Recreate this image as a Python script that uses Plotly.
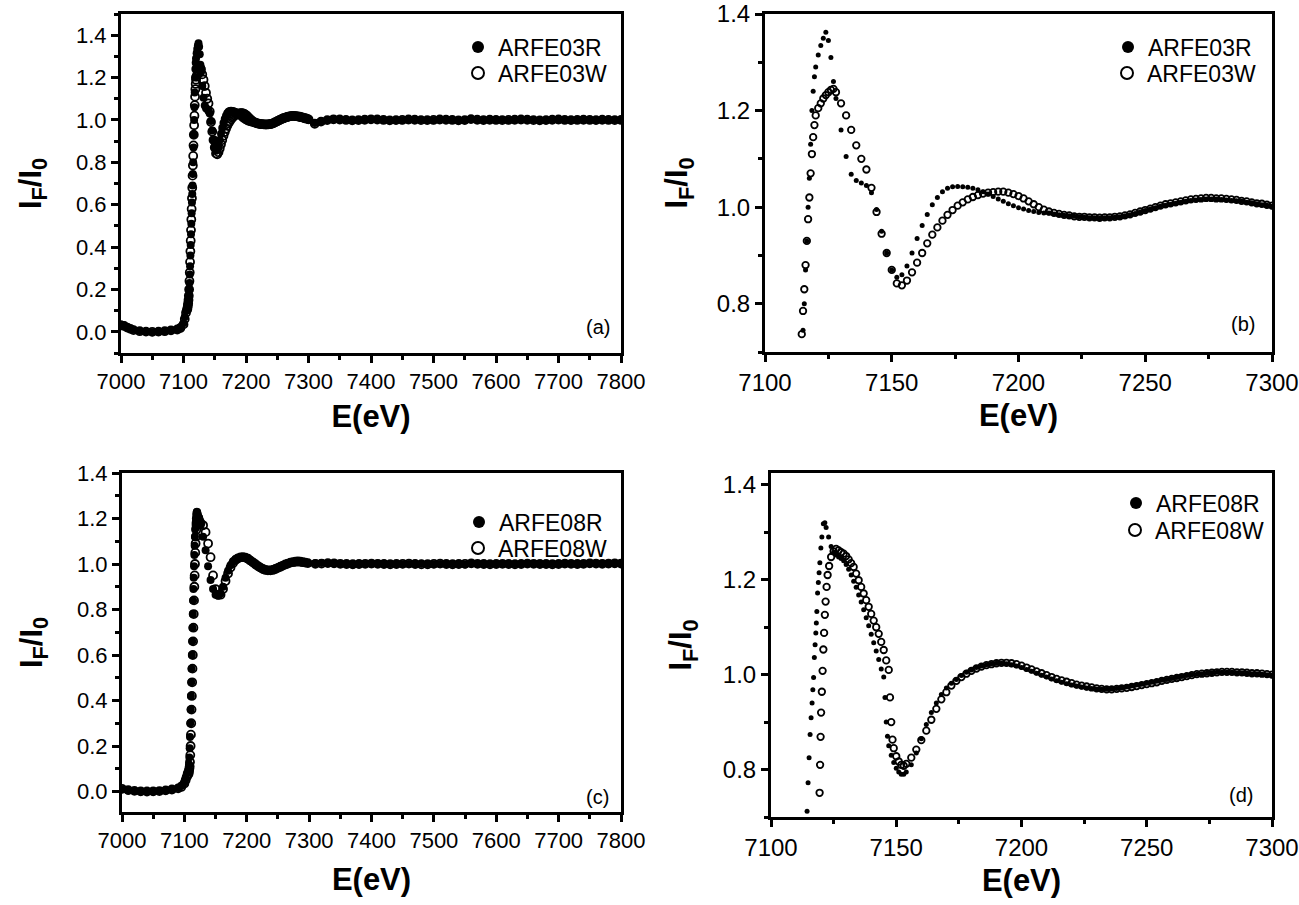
import plotly.graph_objects as go

# ---------------- data: sample ARFE03 (panels a and b share these) ----------------
E03_PRE = [7000, 7005, 7010, 7015, 7020, 7030, 7040, 7050, 7060, 7070, 7080, 7090, 7095, 7100, 7102, 7104]
E03_EDGE = [7106, 7106.5, 7107, 7107.5, 7108, 7108.5, 7109, 7109.5, 7110, 7110.5, 7111, 7111.5,
            7112, 7112.5, 7113, 7113.5, 7114, 7114.5, 7115, 7115.5, 7116, 7116.5, 7117, 7117.5,
            7118, 7118.5, 7119, 7119.5, 7120, 7121, 7122, 7123, 7124, 7125, 7126, 7127, 7128]
E_MID = [7130, 7132, 7134, 7136, 7138, 7140, 7142, 7144, 7146, 7148, 7150, 7152, 7154, 7156, 7158,
         7160, 7162, 7164, 7166, 7168, 7170, 7172, 7174, 7176, 7178, 7180, 7182, 7184, 7186, 7188,
         7190, 7192, 7194, 7196, 7198, 7200, 7202, 7204, 7206, 7208, 7210, 7212, 7214, 7216, 7218,
         7220, 7222, 7224, 7226, 7228, 7230, 7232, 7234, 7236, 7238, 7240, 7242, 7244, 7246, 7248,
         7250, 7252, 7254, 7256, 7258, 7260, 7262, 7264, 7266, 7268, 7270, 7272, 7274, 7276, 7278,
         7280, 7282, 7284, 7286, 7288, 7290, 7292, 7294, 7296, 7298, 7300]
E_TAIL = [7310, 7320, 7330, 7340, 7350, 7360, 7370, 7380, 7390, 7400, 7410, 7420, 7430, 7440, 7450,
          7460, 7470, 7480, 7490, 7500, 7510, 7520, 7530, 7540, 7550, 7560, 7570, 7580, 7590, 7600,
          7610, 7620, 7630, 7640, 7650, 7660, 7670, 7680, 7690, 7700, 7710, 7720, 7730, 7740, 7750,
          7760, 7770, 7780, 7790, 7800]
E03 = E03_PRE + E03_EDGE + E_MID + E_TAIL

R03 = ([0.035, 0.03, 0.022, 0.015, 0.01, 0.004, 0.0, -0.002, 0.0, 0.003, 0.006, 0.012, 0.02, 0.04, 0.07, 0.1]
       + [0.11, 0.12, 0.13, 0.14, 0.15, 0.17, 0.2, 0.23, 0.27, 0.31, 0.36, 0.41, 0.46, 0.51, 0.56, 0.61,
          0.65, 0.69, 0.745, 0.80, 0.87, 0.93, 1.0, 1.06, 1.13, 1.2, 1.24, 1.27, 1.29,
          1.315, 1.335, 1.35, 1.362, 1.345, 1.31, 1.26, 1.225]
       + [1.16, 1.105, 1.068, 1.055, 1.05, 1.045, 1.03, 0.995, 0.95, 0.905, 0.87, 0.855, 0.86, 0.878,
          0.905, 0.935, 0.962, 0.985, 1.005, 1.02, 1.032, 1.039, 1.042, 1.043, 1.042, 1.041, 1.039,
          1.036, 1.032, 1.027, 1.022, 1.017, 1.012, 1.007, 1.003, 0.999, 0.996, 0.993, 0.991, 0.989,
          0.988,
          0.988, 0.986, 0.984, 0.983, 0.982, 0.981, 0.98, 0.979, 0.978, 0.978, 0.977, 0.978, 0.978,
          0.979, 0.98, 0.982, 0.984, 0.987, 0.99, 0.993, 0.996, 0.999, 1.002, 1.004, 1.006, 1.008,
          1.01, 1.012, 1.014, 1.015, 1.016, 1.017, 1.017, 1.017, 1.016, 1.015, 1.014, 1.013, 1.012,
          1.01, 1.009, 1.007, 1.005, 1.004, 1.002]
       + [0.985, 0.993, 0.998, 1.002, 1.003, 1.001, 0.999, 0.998, 1.0, 1.002, 1.003, 1.001, 0.999,
          0.998, 0.999, 1.001, 1.002, 1.0, 0.998, 0.999, 1.001, 1.002, 1.001, 0.999, 0.998, 1.003,
          1.0, 0.999, 1.0, 1.001, 1.0, 0.999, 1.0, 1.001, 1.002, 1.0, 0.999, 0.998, 1.0, 1.001, 1.0,
          0.999, 1.0, 1.001, 1.0, 0.999, 1.0, 1.001, 1.0, 1.0])

W03 = ([0.03, 0.028, 0.02, 0.014, 0.008, 0.003, 0.001, 0.0, 0.001, 0.003, 0.007, 0.011, 0.018, 0.035, 0.06, 0.09]
       + [0.105, 0.115, 0.125, 0.135, 0.15, 0.17, 0.2, 0.24, 0.28, 0.33, 0.38, 0.43, 0.48, 0.53, 0.58,
          0.63, 0.68, 0.737, 0.785, 0.83, 0.88, 0.93, 0.975, 1.02, 1.07, 1.11, 1.145, 1.17, 1.19,
          1.205, 1.215, 1.225, 1.232, 1.238, 1.243, 1.245, 1.238]
       + [1.215, 1.19, 1.16, 1.128, 1.10, 1.078, 1.04, 0.99, 0.945, 0.905, 0.87, 0.842, 0.838, 0.848,
          0.865, 0.885, 0.905, 0.925, 0.943, 0.958, 0.972, 0.984, 0.994, 1.003, 1.01, 1.016, 1.021,
          1.025, 1.028, 1.03, 1.031, 1.032, 1.032, 1.03, 1.027, 1.023, 1.018, 1.012, 1.006, 1.0,
          0.995,
          0.991, 0.988, 0.986, 0.984, 0.983, 0.981, 0.98, 0.98, 0.979, 0.979, 0.978, 0.979, 0.979,
          0.98, 0.981, 0.983, 0.985, 0.988, 0.991, 0.994, 0.997, 1.0, 1.003, 1.006, 1.008, 1.01,
          1.012, 1.014, 1.016, 1.017, 1.018, 1.019, 1.019, 1.018, 1.018, 1.017, 1.016, 1.015, 1.013,
          1.012, 1.01, 1.008, 1.007, 1.005, 1.003]
       + [0.982, 0.992, 0.999, 1.003, 1.002, 1.0, 0.998, 0.999, 1.001, 1.003, 1.002, 1.0, 0.998,
          0.999, 1.0, 1.002, 1.001, 0.999, 0.999, 1.0, 1.002, 1.001, 1.0, 0.998, 0.999, 1.004, 1.001,
          0.999, 1.001, 1.0, 0.999, 1.0, 1.001, 1.002, 1.001, 0.999, 0.998, 0.999, 1.001, 1.002, 1.0,
          0.999, 1.0, 1.001, 1.0, 0.999, 1.001, 1.0, 0.999, 1.0])

# ---------------- data: sample ARFE08, full range (panel c) ----------------
E08C_PRE = [7000, 7010, 7020, 7030, 7040, 7050, 7060, 7070, 7080, 7090, 7095, 7100, 7102, 7104, 7106]
E08C_EDGE = [7107, 7107.5, 7108, 7108.5, 7109, 7109.5, 7110, 7110.5, 7111, 7111.5, 7112, 7112.5,
             7113, 7113.5, 7114, 7114.5, 7115, 7115.5, 7116, 7116.5, 7117, 7117.5, 7118, 7118.5,
             7119, 7119.5, 7120, 7120.5, 7121, 7121.5, 7122, 7122.5, 7123, 7123.5, 7124]
E08C_MID = [7126, 7130, 7134, 7138, 7142, 7146, 7150, 7154, 7158, 7162, 7166, 7170, 7174, 7178,
            7182, 7186, 7190, 7194, 7198, 7202, 7206, 7210, 7214, 7218, 7222, 7226, 7230, 7234,
            7238, 7242, 7246, 7250, 7254, 7258, 7262, 7266, 7270, 7274, 7278, 7282, 7286, 7290,
            7294, 7298]
E08C = E08C_PRE + E08C_EDGE + E08C_MID + E_TAIL

R08C = ([0.01, 0.005, 0.002, 0.0, 0.0, 0.0, 0.002, 0.004, 0.008, 0.015, 0.025, 0.04, 0.06, 0.08, 0.09]
        + [0.10, 0.12, 0.15, 0.19, 0.24, 0.30, 0.36, 0.42, 0.48, 0.54, 0.60, 0.66, 0.72, 0.78, 0.84,
           0.89, 0.94, 0.99, 1.04, 1.08, 1.12, 1.155, 1.18, 1.2, 1.215, 1.225, 1.23, 1.228, 1.222,
           1.215, 1.208, 1.2, 1.195, 1.19, 1.185]
        + [1.17, 1.12, 1.06, 0.99, 0.93, 0.89, 0.865, 0.86, 0.87, 0.9, 0.94, 0.97, 0.995, 1.012,
           1.022, 1.028, 1.03, 1.03, 1.026, 1.02, 1.012, 1.004, 0.996, 0.988, 0.981, 0.976, 0.973,
           0.972, 0.973, 0.976, 0.98, 0.985, 0.99, 0.995, 1.0, 1.004, 1.007, 1.009, 1.01, 1.01,
           1.009, 1.007, 1.005, 1.003]
        + [1.003, 1.004, 1.003, 1.002, 1.0, 0.999, 0.998, 0.999, 1.0, 1.001, 1.002, 1.001, 1.0,
           0.999, 0.999, 1.0, 1.001, 1.001, 1.0, 0.999, 1.0, 1.001, 1.0, 0.999, 0.998, 1.002, 1.0,
           0.999, 1.0, 1.001, 1.0, 0.999, 1.0, 1.001, 1.002, 1.001, 1.0, 0.999, 1.0, 1.001, 1.001,
           1.0, 0.999, 1.0, 1.002, 1.003, 1.002, 1.001, 1.002, 1.003])

W08C = ([0.012, 0.006, 0.003, 0.001, 0.0, 0.001, 0.002, 0.005, 0.009, 0.014, 0.02, 0.035, 0.05, 0.065, 0.075]
        + [0.08, 0.09, 0.10, 0.11, 0.13, 0.16, 0.2, 0.25, 0.3, 0.36, 0.42, 0.48, 0.54, 0.6, 0.66,
           0.72, 0.78, 0.84, 0.9, 0.95, 1.0, 1.05, 1.09, 1.12, 1.15, 1.17, 1.185, 1.195, 1.2, 1.205,
           1.205, 1.2, 1.195, 1.19, 1.185]
        + [1.18, 1.17, 1.14, 1.09, 1.03, 0.95, 0.89, 0.865, 0.865, 0.89, 0.925, 0.958, 0.985, 1.004,
           1.017, 1.025, 1.029, 1.03, 1.028, 1.023, 1.015, 1.007, 0.999, 0.991, 0.984, 0.978, 0.974,
           0.972, 0.972, 0.974, 0.978, 0.983, 0.988, 0.993, 0.998, 1.002, 1.006, 1.008, 1.01, 1.011,
           1.01, 1.008, 1.006, 1.004]
        + [1.001, 1.002, 1.004, 1.003, 1.001, 1.0, 0.999, 1.0, 1.001, 1.002, 1.001, 1.0, 0.999, 1.0,
           1.001, 1.002, 1.0, 0.999, 0.999, 1.001, 1.002, 1.0, 0.999, 1.0, 1.001, 1.003, 1.001, 1.0,
           0.999, 1.0, 1.001, 1.0, 0.999, 1.0, 1.002, 1.001, 1.0, 1.0, 0.999, 1.0, 1.002, 1.001, 1.0,
           1.001, 1.003, 1.002, 1.001, 1.002, 1.003, 1.002])

# ---------------- data: sample ARFE08, edge region (panel d) ----------------
E08D_R_EDGE = [7114.4, 7114.8, 7115.2, 7115.6, 7116.0, 7116.4, 7116.7, 7117.0, 7117.3, 7117.6, 7117.9,
               7118.1, 7118.3, 7118.6, 7118.9, 7119.2, 7119.5, 7119.9, 7120.3, 7120.9, 7121.5, 7122,
               7123, 7124, 7125, 7126, 7127, 7128, 7129,
               7130, 7131, 7132, 7133, 7134, 7135, 7136, 7137, 7138, 7139, 7140, 7141, 7142, 7143,
               7144, 7145, 7145.5, 7146, 7146.5, 7147, 7148, 7149, 7150, 7151, 7152, 7153, 7154]
R08D_EDGE = [0.712, 0.772, 0.825, 0.874, 0.909, 0.94, 0.968, 0.994, 1.036, 1.063, 1.088, 1.109, 1.133,
             1.172, 1.194, 1.215, 1.236, 1.267, 1.29, 1.318, 1.32, 1.31, 1.29, 1.27, 1.258, 1.252,
             1.248, 1.245, 1.24,
             1.232, 1.222, 1.21, 1.197, 1.184, 1.168, 1.153, 1.137, 1.12, 1.103, 1.085, 1.067, 1.05,
             1.032, 1.012, 0.995, 0.952, 0.9, 0.87, 0.85, 0.83, 0.815, 0.803, 0.795, 0.79, 0.79, 0.795]
E08D_W_EDGE = [7119.4, 7119.6, 7119.8, 7120.0, 7120.3, 7120.6, 7120.9, 7121.2, 7121.5, 7121.8, 7122.2,
               7122.6, 7123.2, 7124, 7125, 7126, 7127, 7128, 7129, 7130, 7131, 7132, 7133, 7134, 7135,
               7136, 7137, 7138, 7139, 7140, 7141, 7142, 7143, 7144, 7145, 7146, 7147, 7147.5, 7148,
               7148.5, 7149, 7150, 7151, 7152, 7153, 7154]
W08D_EDGE = [0.751, 0.81, 0.869, 0.92, 0.964, 1.008, 1.053, 1.088, 1.126, 1.154, 1.185, 1.21, 1.229,
             1.248, 1.26, 1.265, 1.262, 1.258, 1.255, 1.25, 1.243, 1.235, 1.227, 1.213, 1.199, 1.185,
             1.171, 1.157, 1.143, 1.128, 1.114, 1.10, 1.086, 1.069, 1.052, 1.03, 1.01, 0.952, 0.90,
             0.863, 0.845, 0.828, 0.817, 0.81, 0.808, 0.812]
E08D_TAIL = E_MID[13:]  # 7156 ... 7300
R08D_TAIL = [0.81, 0.835, 0.865, 0.895, 0.92, 0.94, 0.958, 0.972, 0.982, 0.99, 0.998, 1.005, 1.01,
             1.015, 1.018, 1.021, 1.023, 1.024, 1.024, 1.023, 1.021, 1.018, 1.015, 1.011, 1.007, 1.003,
             0.999, 0.995, 0.991, 0.987, 0.984, 0.981, 0.978, 0.976, 0.974, 0.972, 0.971, 0.97, 0.969,
             0.969, 0.97, 0.971, 0.972, 0.974, 0.976, 0.978, 0.98, 0.982, 0.984, 0.986, 0.988, 0.99,
             0.992, 0.994, 0.996, 0.998, 1.0, 1.001, 1.002, 1.003, 1.004, 1.005, 1.005, 1.005, 1.005,
             1.004, 1.004, 1.003, 1.002, 1.002, 1.001, 1.0, 0.999]
W08D_TAIL = [0.825, 0.842, 0.862, 0.882, 0.905, 0.928, 0.948, 0.963, 0.977, 0.987, 0.995, 1.002, 1.008,
             1.013, 1.017, 1.02, 1.022, 1.024, 1.025, 1.025, 1.024, 1.022, 1.019, 1.015, 1.011, 1.007,
             1.003, 0.999, 0.995, 0.991, 0.988, 0.985, 0.982, 0.979, 0.977, 0.975, 0.973, 0.971, 0.97,
             0.969, 0.969, 0.97, 0.971, 0.972, 0.974, 0.976, 0.978, 0.98, 0.982, 0.984, 0.987, 0.989,
             0.991, 0.993, 0.995, 0.997, 0.999, 1.001, 1.002, 1.003, 1.004, 1.005, 1.006, 1.006, 1.006,
             1.005, 1.005, 1.004, 1.003, 1.003, 1.002, 1.001, 1.0]
E08D_R = E08D_R_EDGE + E08D_TAIL
R08D = R08D_EDGE + R08D_TAIL
E08D_W = E08D_W_EDGE + E08D_TAIL
W08D = W08D_EDGE + W08D_TAIL

for _x, _y, _n in [(E03, R03, "R03"), (E03, W03, "W03"), (E08C, R08C, "R08C"), (E08C, W08C, "W08C"),
                   (E08D_R, R08D, "R08D"), (E08D_W, W08D, "W08D")]:
    assert len(_x) == len(_y), (_n, len(_x), len(_y))

NAMES = [("ARFE03R", "ARFE03W"), ("ARFE03R", "ARFE03W"), ("ARFE08R", "ARFE08W"), ("ARFE08R", "ARFE08W")]
PANEL_LABELS = ["(a)", "(b)", "(c)", "(d)"]
X_TITLE = "E(eV)"
Y_TITLE = "I<sub>F</sub>/I<sub>0</sub>"

# ---------------- figure ----------------
W, H = 1299, 905
FONT = "Arial, Liberation Sans, Helvetica, sans-serif"


def px(x):
    return x / W


def py(y):
    return 1 - y / H


fig = go.Figure()

panels = [
    (E03, R03, E03, W03, "", True),
    (E03, R03, E03, W03, "2", False),
    (E08C, R08C, E08C, W08C, "3", True),
    (E08D_R, R08D, E08D_W, W08D, "4", False),
]

# each legend entry gets its own legend box so the two rows can be spaced like the original
leg_rows = [((477, 47), (477, 73)), ((1127, 47), (1126, 73)), ((478, 522), (477, 548)), ((1135, 503), (1134, 530))]
legend_layouts = {}
li = 1
for i, (xr, yr, xw, yw, suf, big) in enumerate(panels):
    nr, nw = NAMES[i]
    lr = "legend" if li == 1 else "legend%d" % li
    lw = "legend%d" % (li + 1)
    li += 2
    fig.add_trace(go.Scatter(
        x=xr, y=yr, mode="markers", name=nr, legend=lr,
        xaxis="x" + suf, yaxis="y" + suf,
        marker=dict(symbol="circle", size=8 if big else 5, color="black", line=dict(width=0)),
    ))
    fig.add_trace(go.Scatter(
        x=xw, y=yw, mode="markers", name=nw, legend=lw,
        xaxis="x" + suf, yaxis="y" + suf,
        marker=dict(symbol="circle-open", size=8 if big else 6.5, color="black",
                    line=dict(width=1.8, color="black")),
    ))
    for key, (mx, my) in zip((lr, lw), leg_rows[i]):
        legend_layouts[key] = dict(
            x=px(mx - 19), y=py(my), xanchor="left", yanchor="middle",
            bgcolor="rgba(0,0,0,0)", borderwidth=0, itemsizing="constant",
            font=dict(family=FONT, size=23, color="black"),
        )

# axis geometry in pixels (left, right, top, bottom)
geo = {
    "": (121, 621, 14, 353),
    "2": (765, 1272, 14, 352),
    "3": (122, 621, 473, 812),
    "4": (771, 1272, 473, 817),
}
xr_ = {"": [7000, 7800], "2": [7100, 7300], "3": [7000, 7800], "4": [7100, 7300]}
yr_ = {"": [-0.1, 1.5], "2": [0.7, 1.4], "3": [-0.09, 1.4], "4": [0.7, 1.425]}
xdt = {"": (100, 50), "2": (50, 25), "3": (100, 50), "4": (50, 25)}
tick_size = {"": 22, "2": 24, "3": 22, "4": 24}
x_stand = {"": 12, "2": 10, "3": 16, "4": 10}
y_stand = {"": 26, "2": 20, "3": 26, "4": 22}

layout = dict(
    width=W, height=H, margin=dict(l=0, r=0, t=0, b=0),
    paper_bgcolor="white", plot_bgcolor="white",
    font=dict(family=FONT, color="black"),
    showlegend=True,
)
layout.update(legend_layouts)

for suf in ["", "2", "3", "4"]:
    l, r, t, b = geo[suf]
    common = dict(
        showline=True, linewidth=3, linecolor="black", mirror=True,
        ticks="outside", ticklen=7, tickwidth=3, tickcolor="black",
        showgrid=False, zeroline=False, automargin=False,
        tickfont=dict(family=FONT, size=tick_size[suf], color="black"),
    )
    layout["xaxis" + suf] = dict(
        common, domain=[px(l), px(r)], range=xr_[suf], anchor="y" + suf,
        dtick=xdt[suf][0], tick0=7000,
        minor=dict(dtick=xdt[suf][1], ticks="outside", ticklen=4, tickwidth=2.5, tickcolor="black"),
        title=dict(text="<b>" + X_TITLE + "</b>", font=dict(family=FONT, size=31, color="black"),
                   standoff=x_stand[suf]),
    )
    layout["yaxis" + suf] = dict(
        common, domain=[py(b), py(t)], range=yr_[suf], anchor="x" + suf,
        dtick=0.2, tick0=0.0 if suf in ("", "3") else 0.8, tickformat=".1f",
        minor=dict(dtick=0.1, ticks="outside", ticklen=4, tickwidth=2.5, tickcolor="black"),
        title=dict(text="<b>" + Y_TITLE + "</b>", font=dict(family=FONT, size=31, color="black"),
                   standoff=y_stand[suf]),
    )

# panel labels
lab_pos = [(598, 327), (1243, 324), (597, 797), (1241, 795)]
annotations = []
for (lx, ly), txt in zip(lab_pos, PANEL_LABELS):
    annotations.append(dict(x=px(lx), y=py(ly), xref="paper", yref="paper", text=txt, showarrow=False,
                            xanchor="center", yanchor="middle",
                            font=dict(family=FONT, size=20, color="black")))
layout["annotations"] = annotations

fig.update_layout(**layout)

fig.write_html("out.html", config={"displayModeBar": False},
               post_script="document.body.style.margin='0';")
